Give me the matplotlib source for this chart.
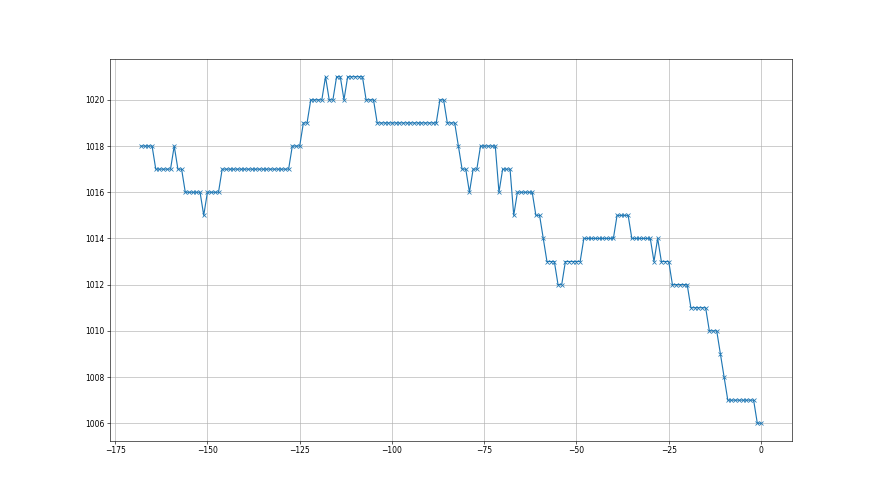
import matplotlib
matplotlib.use('Agg')
import matplotlib.pyplot as plt
import numpy as np

# hours relative to now
hours = np.arange(-168, 1)

# pressure readings, hPa, one per hour
pressure = [
    1018, 1018, 1018, 1018,
    1017, 1017, 1017, 1017, 1017,
    1018,
    1017, 1017,
    1016, 1016, 1016, 1016, 1016,
    1015,
    1016, 1016, 1016, 1016,
    1017, 1017, 1017, 1017, 1017, 1017, 1017, 1017, 1017, 1017,
    1017, 1017, 1017, 1017, 1017, 1017, 1017, 1017, 1017,
    1018, 1018, 1018,
    1019, 1019,
    1020, 1020, 1020, 1020,
    1021,
    1020, 1020,
    1021, 1021,
    1020,
    1021, 1021, 1021, 1021, 1021,
    1020, 1020, 1020,
    1019, 1019, 1019, 1019, 1019, 1019, 1019, 1019, 1019, 1019,
    1019, 1019, 1019, 1019, 1019, 1019, 1019,
    1020, 1020,
    1019, 1019, 1019,
    1018,
    1017, 1017,
    1016,
    1017, 1017,
    1018, 1018, 1018, 1018, 1018,
    1016,
    1017, 1017, 1017,
    1015,
    1016, 1016, 1016, 1016, 1016,
    1015, 1015,
    1014,
    1013, 1013, 1013,
    1012, 1012,
    1013, 1013, 1013, 1013, 1013,
    1014, 1014, 1014, 1014, 1014, 1014, 1014, 1014, 1014,
    1015, 1015, 1015, 1015,
    1014, 1014, 1014, 1014, 1014, 1014,
    1013,
    1014,
    1013, 1013, 1013,
    1012, 1012, 1012, 1012, 1012,
    1011, 1011, 1011, 1011, 1011,
    1010, 1010, 1010,
    1009,
    1008,
    1007, 1007, 1007, 1007, 1007, 1007, 1007, 1007,
    1006, 1006,
]

fig = plt.figure(figsize=(16, 9), dpi=55)
plt.plot(hours, pressure, '-x')
plt.grid(True)
plt.savefig('out.png', dpi=55)
